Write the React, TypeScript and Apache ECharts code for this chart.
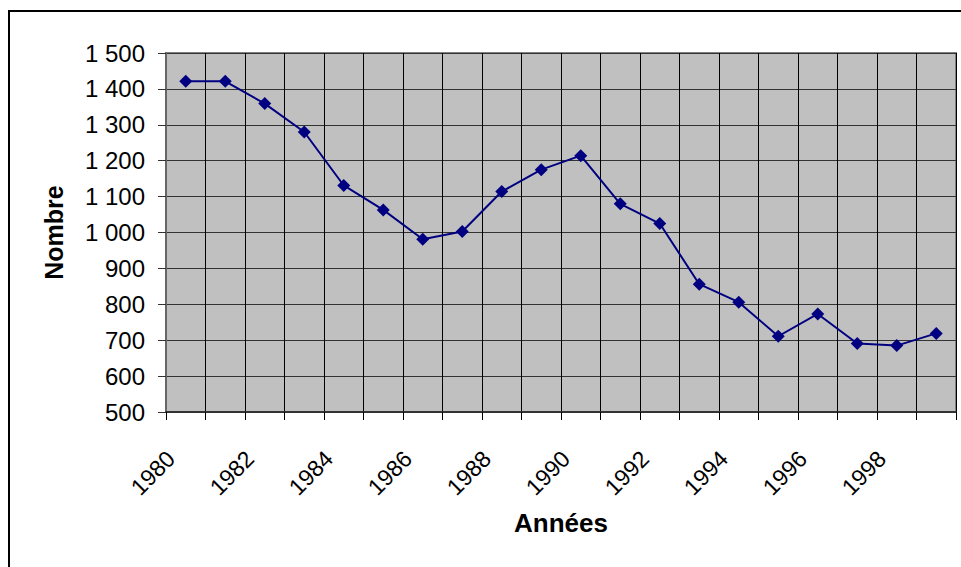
import React, { useEffect, useRef } from "react";
import * as echarts from "echarts";

const years = [
  "1980", "1981", "1982", "1983", "1984", "1985", "1986", "1987", "1988", "1989",
  "1990", "1991", "1992", "1993", "1994", "1995", "1996", "1997", "1998", "1999",
];
const values = [
  1421, 1421, 1359, 1280, 1131, 1063, 981, 1003, 1114, 1175,
  1214, 1080, 1025, 856, 806, 711, 773, 691, 685, 719,
];
const xTitle = "Années";
const yTitle = "Nombre";

const FONT = "'Liberation Sans', Arial, Helvetica, sans-serif";

function fmt(v: number): string {
  const s = String(Math.round(v));
  return s.replace(/\B(?=(\d{3})+(?!\d))/g, " ");
}

export default function App() {
  const ref = useRef<HTMLDivElement>(null);
  useEffect(() => {
    if (!ref.current) return;
    const chart = echarts.init(ref.current, null, { renderer: "svg" });
    chart.setOption({
      animation: false,
      backgroundColor: "#ffffff",
      textStyle: { fontFamily: FONT },
      graphic: [
        {
          type: "rect",
          shape: { x: 9, y: 11, width: 1000, height: 700 },
          style: { fill: "none", stroke: "#000000", lineWidth: 2 },
          silent: true,
        },
      ],
      grid: {
        left: 166,
        top: 53,
        right: 5,
        bottom: 155,
        show: true,
        backgroundColor: "#C0C0C0",
        borderColor: "#808080",
        borderWidth: 2,
      },
      xAxis: {
        type: "category",
        data: years,
        boundaryGap: true,
        name: xTitle,
        nameLocation: "middle",
        nameGap: 98,
        nameTextStyle: { fontFamily: FONT, fontSize: 26, fontWeight: "bold", color: "#000" },
        axisLine: { show: true, lineStyle: { color: "#333333", width: 2 } },
        axisTick: { show: true, interval: 0, length: 8, lineStyle: { color: "#000", width: 1 } },
        splitLine: { show: true, interval: 0, lineStyle: { color: "#000000", width: 1 } },
        axisLabel: {
          interval: 1,
          rotate: 45,
          margin: 28,
          padding: [0, 21, 0, 0],
          fontFamily: FONT,
          fontSize: 23,
          color: "#000",
        },
      },
      yAxis: {
        type: "value",
        min: 500,
        max: 1500,
        interval: 100,
        name: yTitle,
        nameLocation: "middle",
        nameGap: 100,
        nameTextStyle: { fontFamily: FONT, fontSize: 25, fontWeight: "bold", color: "#000" },
        axisLine: { show: true, lineStyle: { color: "#666666", width: 2 } },
        axisTick: { show: true, length: 8, lineStyle: { color: "#333333", width: 1 } },
        splitLine: { show: true, lineStyle: { color: "#333333", width: 1 } },
        axisLabel: {
          margin: 21,
          fontFamily: FONT,
          fontSize: 24,
          color: "#000",
          formatter: (v: number) => fmt(v),
        },
      },
      series: [
        {
          type: "line",
          data: values,
          symbol: "diamond",
          symbolSize: 13,
          itemStyle: { color: "#000080" },
          lineStyle: { color: "#000080", width: 2 },
        },
      ],
    });
    return () => chart.dispose();
  }, []);
  return (
    <div
      ref={ref}
      style={{ position: "absolute", left: 0, top: 0, width: 961, height: 567 }}
    />
  );
}
